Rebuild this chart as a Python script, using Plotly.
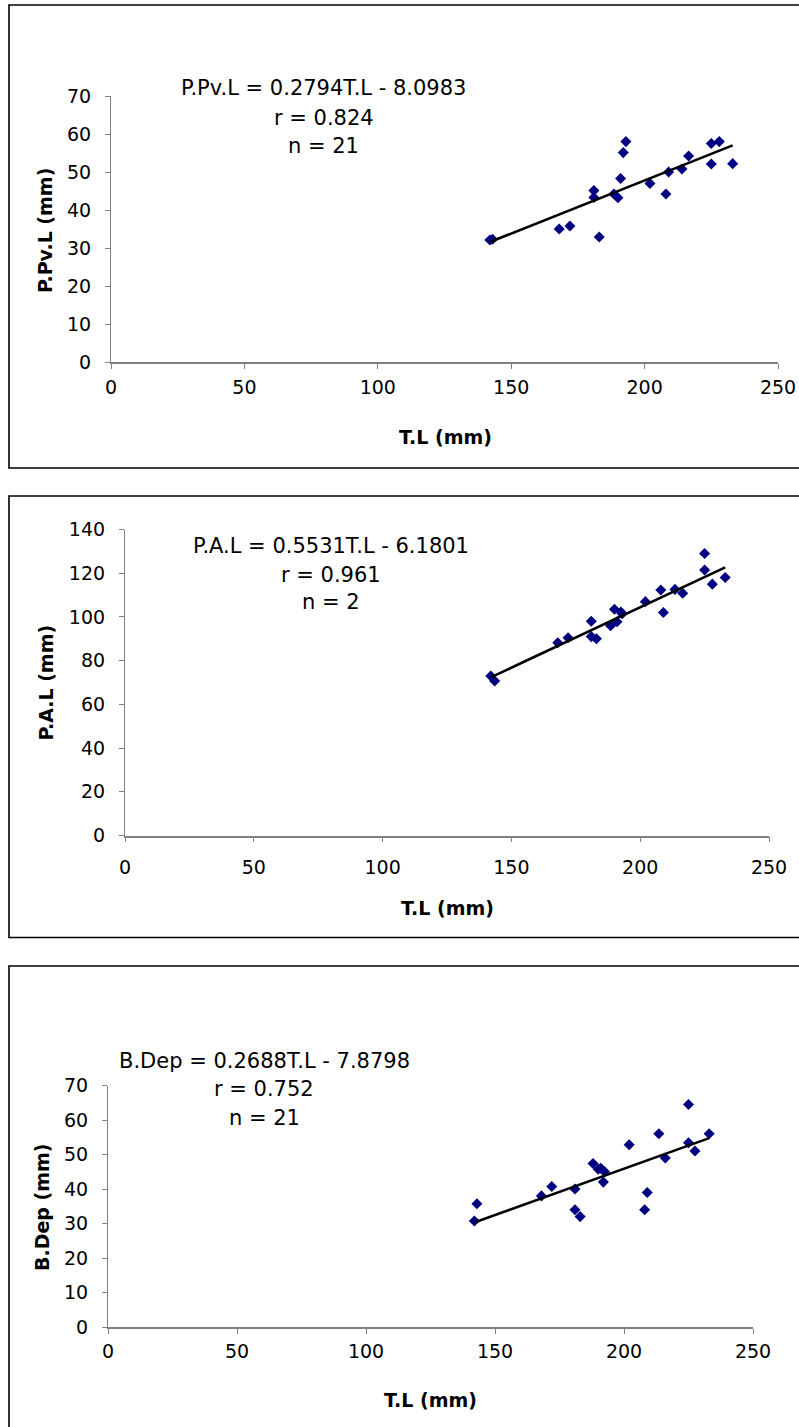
import plotly.graph_objects as go

W, H = 799, 1427

# ---------------- data ----------------
tl_1 = [142, 143, 168, 172, 181, 181, 183, 188.5, 190, 191, 192, 193, 202, 208, 209, 214, 216.5, 225, 225, 228, 233]
ppvl = [32.1, 32.3, 35, 35.8, 45.1, 43.3, 32.9, 44.2, 43.2, 48.3, 55.1, 58, 47, 44.2, 50, 50.8, 54.2, 57.5, 52.1, 58, 52.2]

tl_2 = [142, 143.5, 168, 172, 181, 181, 183, 188.5, 190, 191, 192.5, 193, 202, 208, 209, 213.5, 216.5, 225, 225, 228, 233]
pal = [73, 70.7, 88.2, 90.5, 98, 91, 90, 96, 103.5, 97.8, 102.2, 101.5, 107, 112.3, 102, 112.6, 110.8, 129, 121.5, 115, 118]

tl_3 = [142, 143, 168, 172, 181, 181, 183, 188, 190, 191, 192, 192.5, 202, 208, 209, 213.5, 216, 225, 225, 227.5, 233]
bdep = [30.7, 35.7, 38, 40.7, 40, 34, 32, 47.4, 45.7, 46, 42, 45, 52.8, 34, 39, 56, 49, 64.5, 53.4, 51, 56]

slopes = [0.2794, 0.5531, 0.2688]
intercepts = [-8.0983, -6.1801, -7.8798]

eq_texts = ["P.Pv.L = 0.2794T.L - 8.0983", "P.A.L = 0.5531T.L - 6.1801", "B.Dep = 0.2688T.L - 7.8798"]
r_texts = ["r = 0.824", "r = 0.961", "r = 0.752"]
n_texts = ["n = 21", "n = 2", "n = 21"]
y_titles = ["P.Pv.L (mm)", "P.A.L (mm)", "B.Dep (mm)"]
x_title = "T.L (mm)"
y_max = [70, 140, 70]
y_dtick = [10, 20, 10]
x_ticks = [0, 50, 100, 150, 200, 250]

# ---------------- layout geometry (pixels) ----------------
# plot area: x0, x1, ytop, ybottom
areas = [(111, 778, 96, 362), (125, 769, 529.5, 835.5), (108, 753, 1085.5, 1327)]
frames = [(9, 5, 468), (9, 496, 937.5), (9, 966, 1432)]
text_pos = [(323.5, (88, 117.5, 146)), (331, (546, 574.5, 602)), (264, (1060.5, 1089, 1118))]
ytitle_pos = [(45, 231), (45, 682.5), (42, 1207)]
xtitle_pos = [(445, 437), (447, 908), (430, 1400)]
xlabel_standoff = [2, 9, 1]

FONT = "DejaVu Sans, Liberation Sans, Arial, sans-serif"


def px(x):
    return x / W


def py(y):
    return 1 - y / H


fig = go.Figure()
datasets = [(tl_1, ppvl), (tl_2, pal), (tl_3, bdep)]
annotations = []
shapes = []

for i, (xs, ys) in enumerate(datasets):
    k = "" if i == 0 else str(i + 1)
    xa, ya = "x" + k, "y" + k
    fig.add_trace(go.Scatter(
        x=xs, y=ys, mode="markers", xaxis=xa, yaxis=ya,
        marker=dict(symbol="diamond", size=8.5, color="#000080", line=dict(width=0)),
        showlegend=False, cliponaxis=False))
    xmin, xmax = min(xs), max(xs)
    fig.add_trace(go.Scatter(
        x=[xmin, xmax], y=[slopes[i] * xmin + intercepts[i], slopes[i] * xmax + intercepts[i]],
        mode="lines", xaxis=xa, yaxis=ya, line=dict(color="black", width=2.6),
        showlegend=False, cliponaxis=False))

    x0, x1, yt, yb = areas[i]
    fig.update_layout({
        "xaxis" + k: dict(domain=[px(x0), px(x1)], range=[0, 250], tickvals=x_ticks,
                          showline=True, linecolor="#808080", linewidth=1.6,
                          ticks="outside", ticklen=5, tickcolor="#808080", tickwidth=1,
                          showgrid=False, zeroline=False, anchor=ya, automargin=False,
                          tickfont=dict(family=FONT, size=19, color="black"),
                          ticklabelstandoff=xlabel_standoff[i], fixedrange=True),
        "yaxis" + k: dict(domain=[py(yb), py(yt)], range=[0, y_max[i]], dtick=y_dtick[i],
                          showline=True, linecolor="#808080", linewidth=1.2,
                          ticks="outside", ticklen=5, tickcolor="#808080", tickwidth=1,
                          showgrid=False, zeroline=False, anchor=xa, automargin=False,
                          tickfont=dict(family=FONT, size=19, color="black"),
                          ticklabelstandoff=10, fixedrange=True),
    })

    # frame
    fx, ftop, fbot = frames[i]
    shapes.append(dict(type="rect", xref="paper", yref="paper",
                       x0=px(fx), x1=px(W + 20), y0=py(fbot), y1=py(ftop),
                       line=dict(color="black", width=1.6), fillcolor="rgba(0,0,0,0)", layer="below"))

    # equation text
    tx, (l1, l2, l3) = text_pos[i]
    for txt, yy in zip([eq_texts[i], r_texts[i], n_texts[i]], [l1, l2, l3]):
        annotations.append(dict(text=txt, x=px(tx), y=py(yy), xref="paper", yref="paper",
                                xanchor="center", yanchor="middle", showarrow=False,
                                font=dict(family=FONT, size=21, color="black")))
    # axis titles
    yx, yy = ytitle_pos[i]
    annotations.append(dict(text="<b>" + y_titles[i] + "</b>", x=px(yx), y=py(yy),
                            xref="paper", yref="paper", xanchor="center", yanchor="middle",
                            textangle=-90, showarrow=False,
                            font=dict(family=FONT, size=19, color="black")))
    xx, xy = xtitle_pos[i]
    annotations.append(dict(text="<b>" + x_title + "</b>", x=px(xx), y=py(xy),
                            xref="paper", yref="paper", xanchor="center", yanchor="middle",
                            showarrow=False, font=dict(family=FONT, size=19, color="black")))

fig.update_layout(width=W, height=H, autosize=False,
                  margin=dict(l=0, r=0, t=0, b=0, pad=0),
                  paper_bgcolor="white", plot_bgcolor="white",
                  shapes=shapes, annotations=annotations, showlegend=False)

fig.write_html("out.html", include_plotlyjs=True, config={"displayModeBar": False})
